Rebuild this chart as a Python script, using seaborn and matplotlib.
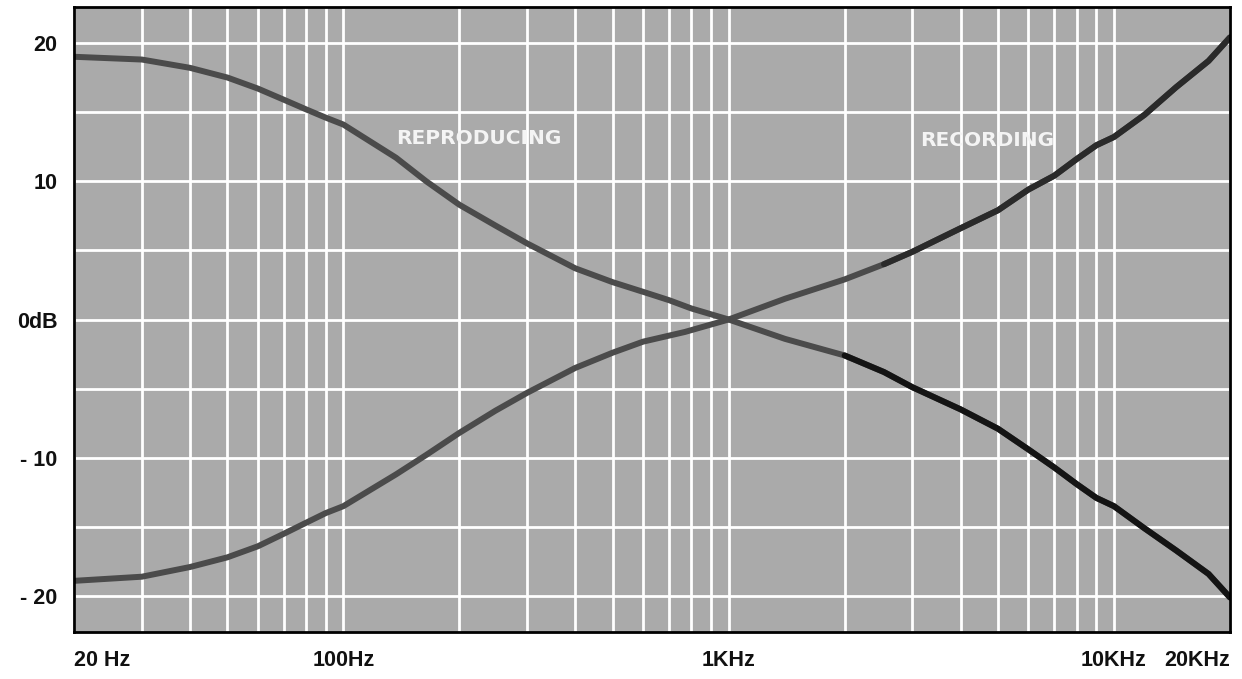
import numpy as np
import pandas as pd
import matplotlib
matplotlib.use('Agg')
import matplotlib.pyplot as plt
from matplotlib.ticker import LogLocator, FixedLocator, MultipleLocator, NullFormatter
import seaborn as sns

# values (frequency in Hz, level in dB)
repro_freq = [20, 30, 40, 50, 60, 70, 80, 90, 100, 137, 164, 200, 248, 300, 400, 500, 600, 700, 800, 1000,
              1400, 2000, 2530, 3000, 4000, 5000, 6000, 7000, 8000, 9000, 10000, 12000, 14500, 17600, 20000]
repro_db = [19.0, 18.8, 18.2, 17.5, 16.7, 15.9, 15.2, 14.6, 14.1, 11.7, 10.0, 8.3, 6.8, 5.5, 3.7, 2.7, 2.0, 1.4, 0.8, 0.0,
            -1.4, -2.6, -3.8, -4.9, -6.5, -7.9, -9.4, -10.7, -11.9, -12.9, -13.5, -15.1, -16.7, -18.4, -20.1]

rec_freq = [20, 30, 40, 50, 60, 70, 80, 90, 100, 137, 164, 200, 248, 300, 400, 500, 600, 770, 1000,
            1400, 2000, 2530, 3000, 4000, 5000, 6000, 7000, 8000, 9000, 10000, 12000, 14500, 17600, 20000]
rec_db = [-18.9, -18.6, -17.9, -17.2, -16.4, -15.5, -14.7, -14.0, -13.5, -11.2, -9.8, -8.2, -6.6, -5.3, -3.5, -2.4, -1.6, -0.9, 0.0,
          1.5, 2.9, 4.0, 4.9, 6.6, 7.9, 9.4, 10.4, 11.6, 12.6, 13.2, 14.8, 16.8, 18.7, 20.4]

x_ticks = [20, 100, 1000, 10000, 20000]
x_labels = ['20 Hz', '100Hz', '1KHz', '10KHz', '20KHz']
y_ticks = [20, 10, 0, -10, -20]
y_labels = ['20', '10', '0dB', '- 10', '- 20']

repro = pd.DataFrame({'freq': repro_freq, 'db': repro_db})
rec = pd.DataFrame({'freq': rec_freq, 'db': rec_db})

sns.set_style('white', {'axes.facecolor': '#aaaaaa', 'axes.edgecolor': 'black'})
plt.rcParams['font.family'] = ['Liberation Sans', 'DejaVu Sans']
plt.rcParams['lines.solid_joinstyle'] = 'round'
plt.rcParams['lines.solid_capstyle'] = 'round'

fig = plt.figure(figsize=(12.42, 6.79), dpi=100)
ax = fig.add_axes([0.0596, 0.0692, 0.9307, 0.9205])

# curves: the printed lines turn nearly black towards the high end
sns.lineplot(x='freq', y='db', data=repro, ax=ax, color='#4b4b4b', linewidth=4.3, sort=False)
sns.lineplot(x='freq', y='db', data=repro[repro.freq >= 2000], ax=ax, color='#141414', linewidth=4.3, sort=False)
sns.lineplot(x='freq', y='db', data=rec, ax=ax, color='#4b4b4b', linewidth=4.3, sort=False)
sns.lineplot(x='freq', y='db', data=rec[rec.freq >= 2530], ax=ax, color='#2a2a2a', linewidth=4.3, sort=False)

ax.set_xscale('log')
ax.set_xlim(20, 20000)
ax.set_ylim(-22.6, 22.6)

ax.xaxis.set_major_locator(FixedLocator(x_ticks))
ax.xaxis.set_minor_locator(LogLocator(base=10, subs=range(1, 10), numticks=20))
ax.xaxis.set_minor_formatter(NullFormatter())
ax.set_xticklabels(x_labels)
ax.yaxis.set_major_locator(FixedLocator(y_ticks))
ax.yaxis.set_minor_locator(MultipleLocator(5))
ax.set_yticklabels(y_labels)

ax.grid(True, which='both', color='white', linewidth=2.0)
ax.set_axisbelow(True)
ax.tick_params(which='both', length=0)
ax.tick_params(axis='x', pad=13)
ax.tick_params(axis='y', pad=12)
for lab in ax.get_xticklabels() + ax.get_yticklabels():
    lab.set_fontsize(15.5)
    lab.set_fontweight('bold')
    lab.set_color('#111111')
xl = ax.get_xticklabels()
xl[0].set_horizontalalignment('left')
xl[-1].set_horizontalalignment('right')

for s in ax.spines.values():
    s.set_linewidth(2)
    s.set_color('black')

ax.set_xlabel('')
ax.set_ylabel('')

ax.text(0.279, 0.789, 'REPRODUCING', transform=ax.transAxes, color='#f4f4f4', fontsize=14.5,
        family='DejaVu Sans', fontweight='bold', va='center', ha='left')
ax.text(0.732, 0.786, 'RECORDING', transform=ax.transAxes, color='#f4f4f4', fontsize=14.5,
        family='DejaVu Sans', fontweight='bold', va='center', ha='left')

fig.savefig('out.png', dpi=100)
